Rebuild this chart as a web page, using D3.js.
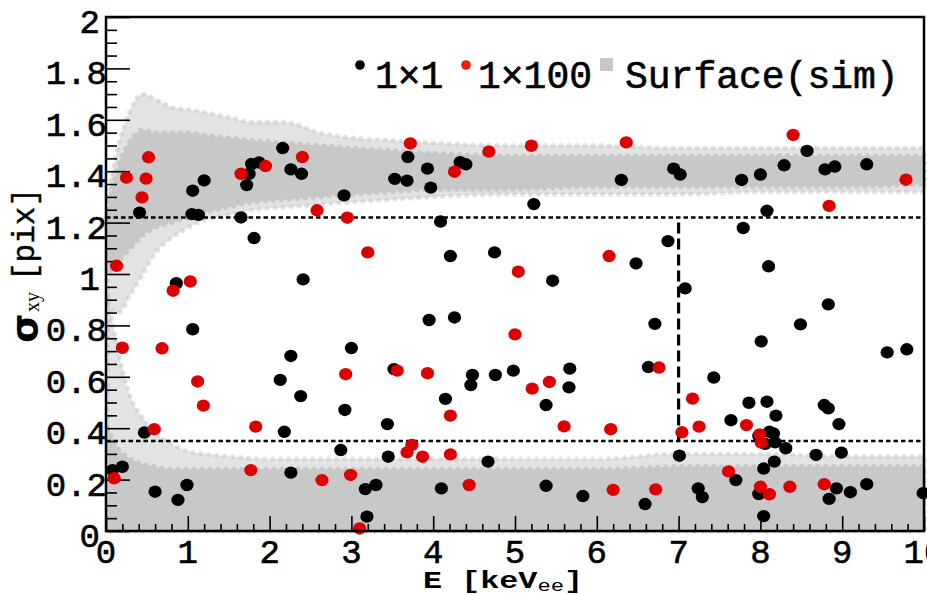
<!DOCTYPE html>
<html>
<head>
<meta charset="utf-8">
<script src="https://cdn.jsdelivr.net/npm/d3@7"></script>
<style>
  html, body { margin: 0; padding: 0; background: #fff; }
  svg { display: block; }
</style>
</head>
<body>
<svg id="chart" width="927" height="595"></svg>
<script>
// ---- data: cluster width vs. energy ----
// 1x1 readout (black)
const e11 = [0.41,1.06,1.20,1.05,1.13,0.86,1.06,1.72,1.75,1.78,1.87,1.65,1.81,2.16,2.26,2.39,2.91,2.41,3.53,3.68,3.69,3.93,3.97,4.33,4.40,4.09,4.21,4.75,3.95,4.26,
  8.57,8.29,8.79,8.91,9.30,6.94,7.02,6.30,7.77,8.00,5.23,8.08,7.79,6.87,6.48,5.46,7.08,8.10,8.83,6.71,8.49,
  0.47,0.08,0.20,0.60,0.88,0.99,2.13,2.26,2.38,2.18,2.26,3.00,2.92,2.87,3.17,3.30,3.19,3.52,3.44,3.45,4.15,4.10,4.48,4.46,4.76,4.67,4.98,
  5.67,5.66,5.38,6.63,8.01,7.43,7.01,7.64,7.86,8.08,8.19,8.11,8.16,7.98,8.06,8.18,8.31,8.17,8.04,7.70,7.98,8.04,
  8.78,8.83,8.96,8.68,8.99,8.93,8.84,9.10,9.30,9.99,9.55,9.79,5.38,5.83,6.59,7.24,7.29];
const s11 = [1.239,1.324,1.364,1.233,1.230,0.964,0.785,1.346,1.390,1.428,1.434,1.220,1.140,1.490,1.407,1.390,1.306,0.979,1.370,1.363,1.455,1.410,1.336,1.435,1.427,1.204,1.070,1.084,0.821,0.831,
  1.479,1.423,1.407,1.418,1.427,1.410,1.387,1.366,1.366,1.387,1.272,1.246,1.179,1.128,1.041,0.974,0.944,1.030,0.882,0.806,0.804,
  0.383,0.237,0.250,0.153,0.121,0.179,0.588,0.681,0.525,0.386,0.227,0.712,0.471,0.315,0.163,0.179,0.056,0.630,0.416,0.289,0.514,0.166,0.607,0.568,0.607,0.270,0.624,
  0.632,0.559,0.490,0.638,0.738,0.597,0.293,0.431,0.499,0.503,0.449,0.386,0.380,0.370,0.339,0.345,0.322,0.270,0.243,0.198,0.144,0.058,
  0.490,0.477,0.416,0.296,0.305,0.166,0.125,0.151,0.182,0.147,0.695,0.707,0.176,0.136,0.105,0.166,0.132];

// 1x100 readout (red)
const e1100 = [0.25,0.52,0.49,0.44,0.13,0.82,1.03,1.65,1.95,2.40,2.58,2.95,3.20,3.72,4.26,4.68,5.04,5.20,6.36,8.40,9.78,8.84,6.15,
  0.20,0.685,1.12,1.19,0.59,0.10,1.83,1.77,2.64,2.93,2.99,3.10,3.56,3.93,3.74,3.68,3.87,4.21,4.21,4.44,5.00,5.42,5.21,5.60,6.17,
  6.76,7.17,7.25,7.04,7.83,7.99,8.01,7.61,8.00,8.11,8.36,8.78,6.20,6.72];
const s1100 = [1.375,1.454,1.371,1.298,1.032,0.935,0.971,1.390,1.420,1.455,1.248,1.219,1.084,1.508,1.398,1.476,1.009,1.499,1.512,1.541,1.367,1.265,1.070,
  0.713,0.711,0.582,0.488,0.396,0.205,0.406,0.237,0.198,0.610,0.218,0.010,0.624,0.614,0.335,0.306,0.289,0.449,0.298,0.179,0.765,0.580,0.554,0.407,0.396,
  0.636,0.515,0.406,0.384,0.412,0.376,0.344,0.232,0.172,0.143,0.172,0.182,0.160,0.162];

// simulated surface events: envelopes of the two populations (sparse fringe and dense core)
const simUpperE      = [0.02, 0.15, 0.30, 0.45, 0.60, 0.80, 1.00, 1.20, 1.50, 1.80, 2.20, 2.60, 3.00, 3.50, 4.00, 5.00, 6.00, 7.00, 8.00, 9.00, 10.0];
const simUpperOutTop = [1.30, 1.50, 1.64, 1.70, 1.68, 1.65, 1.64, 1.63, 1.61, 1.59, 1.59, 1.55, 1.53, 1.52, 1.51, 1.50, 1.50, 1.49, 1.49, 1.49, 1.49];
const simUpperOutBot = [0.88, 0.85, 0.92, 1.00, 1.08, 1.14, 1.18, 1.21, 1.23, 1.25, 1.26, 1.27, 1.28, 1.29, 1.30, 1.31, 1.31, 1.31, 1.32, 1.32, 1.32];
const simUpperTop    = [1.25, 1.42, 1.52, 1.56, 1.55, 1.55, 1.55, 1.54, 1.53, 1.52, 1.51, 1.50, 1.49, 1.48, 1.47, 1.46, 1.46, 1.46, 1.46, 1.46, 1.46];
const simUpperBot    = [1.00, 1.05, 1.10, 1.15, 1.18, 1.20, 1.22, 1.24, 1.26, 1.28, 1.29, 1.30, 1.31, 1.32, 1.33, 1.33, 1.34, 1.34, 1.34, 1.34, 1.35];

const simLowerE      = [0.02, 0.15, 0.30, 0.45, 0.60, 0.80, 1.00, 1.50, 2.00, 3.00, 4.00, 5.00, 6.00, 7.00, 8.00, 9.00, 10.0];
const simLowerOutTop = [0.92, 0.70, 0.52, 0.44, 0.38, 0.34, 0.31, 0.29, 0.28, 0.28, 0.28, 0.28, 0.28, 0.30, 0.30, 0.29, 0.29];
const simLowerTop    = [0.40, 0.32, 0.28, 0.26, 0.25, 0.24, 0.24, 0.24, 0.24, 0.24, 0.24, 0.24, 0.24, 0.25, 0.25, 0.25, 0.25];
const simLowerBot    = [0.00, 0.00, 0.00, 0.00, 0.00, 0.00, 0.00, 0.00, 0.00, 0.00, 0.00, 0.00, 0.00, 0.00, 0.00, 0.00, 0.00];

// selection cuts
const cutLow = 0.35, cutHigh = 1.22, cutE = 7.0;

// axis ticks
const xTicks = [0,1,2,3,4,5,6,7,8,9,10];
const xTickLabels = ["0","1","2","3","4","5","6","7","8","9","10"];
const yTicks = [0,0.2,0.4,0.6,0.8,1.0,1.2,1.4,1.6,1.8,2.0];
const yTickLabels = ["0","0.2","0.4","0.6","0.8","1","1.2","1.4","1.6","1.8","2"];

// ---- drawing ----
const svg = d3.select("#chart");
const L = 106, R = 924, T = 17, B = 531;
const x = d3.scaleLinear().domain([0, 10]).range([L, R]);
const y = d3.scaleLinear().domain([0, 2]).range([B, T]);

const GRAY = "#c8c8c8", RED = "#dd0000";
const MONO = "'Liberation Mono', 'Courier New', monospace";

svg.append("rect").attr("width", 927).attr("height", 595).attr("fill", "#fff");

// simulated populations
function band(es, lo, hi) {
  return d3.area().curve(d3.curveMonotoneX)
    .x((d, i) => x(es[i])).y0((d, i) => y(lo[i])).y1((d, i) => y(hi[i]))(es);
}
const gSim = svg.append("g");
[[simUpperE, simUpperOutBot, simUpperOutTop, 0.5], [simLowerE, simLowerBot, simLowerOutTop, 0.5],
 [simUpperE, simUpperBot, simUpperTop, 1], [simLowerE, simLowerBot, simLowerTop, 1]].forEach(([es, lo, hi, op]) => {
  gSim.append("path").attr("d", band(es, lo, hi))
    .attr("fill", GRAY).attr("fill-opacity", op)
    .attr("stroke", GRAY).attr("stroke-opacity", op)
    .attr("stroke-width", 5).attr("stroke-linecap", "round").attr("stroke-dasharray", "0,8");
});

// axes with inward ticks
const xAxis = d3.axisBottom(x).tickValues(d3.range(0, 10.001, 0.2)).tickSize(0).tickFormat("");
const gx = svg.append("g").attr("transform", `translate(0,${B})`).call(xAxis);
gx.select(".domain").remove();
gx.selectAll(".tick line").attr("y2", d => Math.abs(d - Math.round(d)) < 1e-6 ? -15 : -7)
  .attr("stroke", "#000").attr("stroke-width", 1.6);

const yAxis = d3.axisLeft(y).tickValues(d3.range(0, 2.0001, 0.05)).tickSize(0).tickFormat("");
const gy = svg.append("g").attr("transform", `translate(${L},0)`).call(yAxis);
gy.select(".domain").remove();
gy.selectAll(".tick line").attr("x2", d => Math.abs(d * 5 - Math.round(d * 5)) < 1e-6 ? 24 : 11)
  .attr("stroke", "#000").attr("stroke-width", 1.6);

// tick labels (slightly emboldened monospace)
svg.append("g").selectAll("text").data(xTicks).join("text")
  .attr("x", d => x(d)).attr("y", B + 32)
  .attr("text-anchor", "middle").attr("font-family", MONO).attr("font-size", 34)
  .attr("fill", "#000").attr("stroke", "#000").attr("stroke-width", 0.6)
  .text((d, i) => xTickLabels[i]);
svg.append("g").selectAll("text").data(yTicks).join("text")
  .attr("x", (d, i) => yTickLabels[i].length > 1 ? L + 1 : L - 6).attr("y", d => y(d) + 16)
  .attr("text-anchor", "end").attr("font-family", MONO).attr("font-size", 34)
  .attr("fill", "#000").attr("stroke", "#000").attr("stroke-width", 0.6)
  .text((d, i) => yTickLabels[i]);

// cut lines
svg.append("line").attr("x1", L).attr("x2", R).attr("y1", y(cutHigh)).attr("y2", y(cutHigh))
  .attr("stroke", "#000").attr("stroke-width", 2.5).attr("stroke-dasharray", "4.5,3");
svg.append("line").attr("x1", L).attr("x2", R).attr("y1", y(cutLow)).attr("y2", y(cutLow))
  .attr("stroke", "#000").attr("stroke-width", 2.5).attr("stroke-dasharray", "4.5,3");
svg.append("line").attr("x1", x(cutE)).attr("x2", x(cutE)).attr("y1", y(cutHigh) + 5).attr("y2", y(cutLow))
  .attr("stroke", "#000").attr("stroke-width", 3.2).attr("stroke-dasharray", "11,5");

// measured clusters
svg.append("g").selectAll("ellipse").data(e11).join("ellipse")
  .attr("cx", d => x(d)).attr("cy", (d, i) => y(s11[i])).attr("rx", 6.6).attr("ry", 6.2).attr("fill", "#000");
svg.append("g").selectAll("ellipse").data(e1100).join("ellipse")
  .attr("cx", d => x(d)).attr("cy", (d, i) => y(s1100[i])).attr("rx", 6.6).attr("ry", 6.2).attr("fill", RED);

// frame
svg.append("rect").attr("x", L).attr("y", T).attr("width", R - L).attr("height", B - T)
  .attr("fill", "none").attr("stroke", "#000").attr("stroke-width", 2.5);

// legend
const leg = svg.append("g").attr("font-family", MONO).attr("font-size", 38)
  .attr("fill", "#000").attr("stroke", "#000").attr("stroke-width", 0.6);
leg.append("circle").attr("cx", 360).attr("cy", 65).attr("r", 4.8).attr("fill", "#000").attr("stroke", "none");
leg.append("text").attr("x", 375).attr("y", 88).text("1×1");
leg.append("circle").attr("cx", 466).attr("cy", 65).attr("r", 4.8).attr("fill", "#ee1a0a").attr("stroke", "none");
leg.append("text").attr("x", 478).attr("y", 88).text("1×100");
leg.append("rect").attr("x", 600).attr("y", 58).attr("width", 13).attr("height", 13).attr("fill", GRAY).attr("stroke", "none");
leg.append("text").attr("x", 625).attr("y", 88).text("Surface(sim)");

// x title
const xt = svg.append("text").attr("x", 423).attr("y", 588)
  .attr("font-family", MONO).attr("font-weight", "bold").attr("font-size", 23)
  .attr("textLength", 160).attr("lengthAdjust", "spacingAndGlyphs");
xt.append("tspan").text("E [keV");
xt.append("tspan").attr("font-size", 16).attr("font-weight", "normal").attr("dy", 3).text("ee");
xt.append("tspan").attr("dy", -3).text("]");

// y title
const yt = svg.append("g").attr("transform", "translate(37,343) rotate(-90)");
yt.append("text").attr("x", 0).attr("y", 0)
  .attr("font-family", "'DejaVu Sans', sans-serif").attr("font-weight", "bold").attr("font-size", 38).text("σ");
yt.append("text").attr("x", 31).attr("y", 2)
  .attr("font-family", "'Liberation Serif', serif").attr("font-size", 20).text("xy");
yt.append("text").attr("x", 62).attr("y", -3)
  .attr("font-family", MONO).attr("font-size", 31).attr("stroke", "#000").attr("stroke-width", 0.4).text("[pix]");
</script>
</body>
</html>
